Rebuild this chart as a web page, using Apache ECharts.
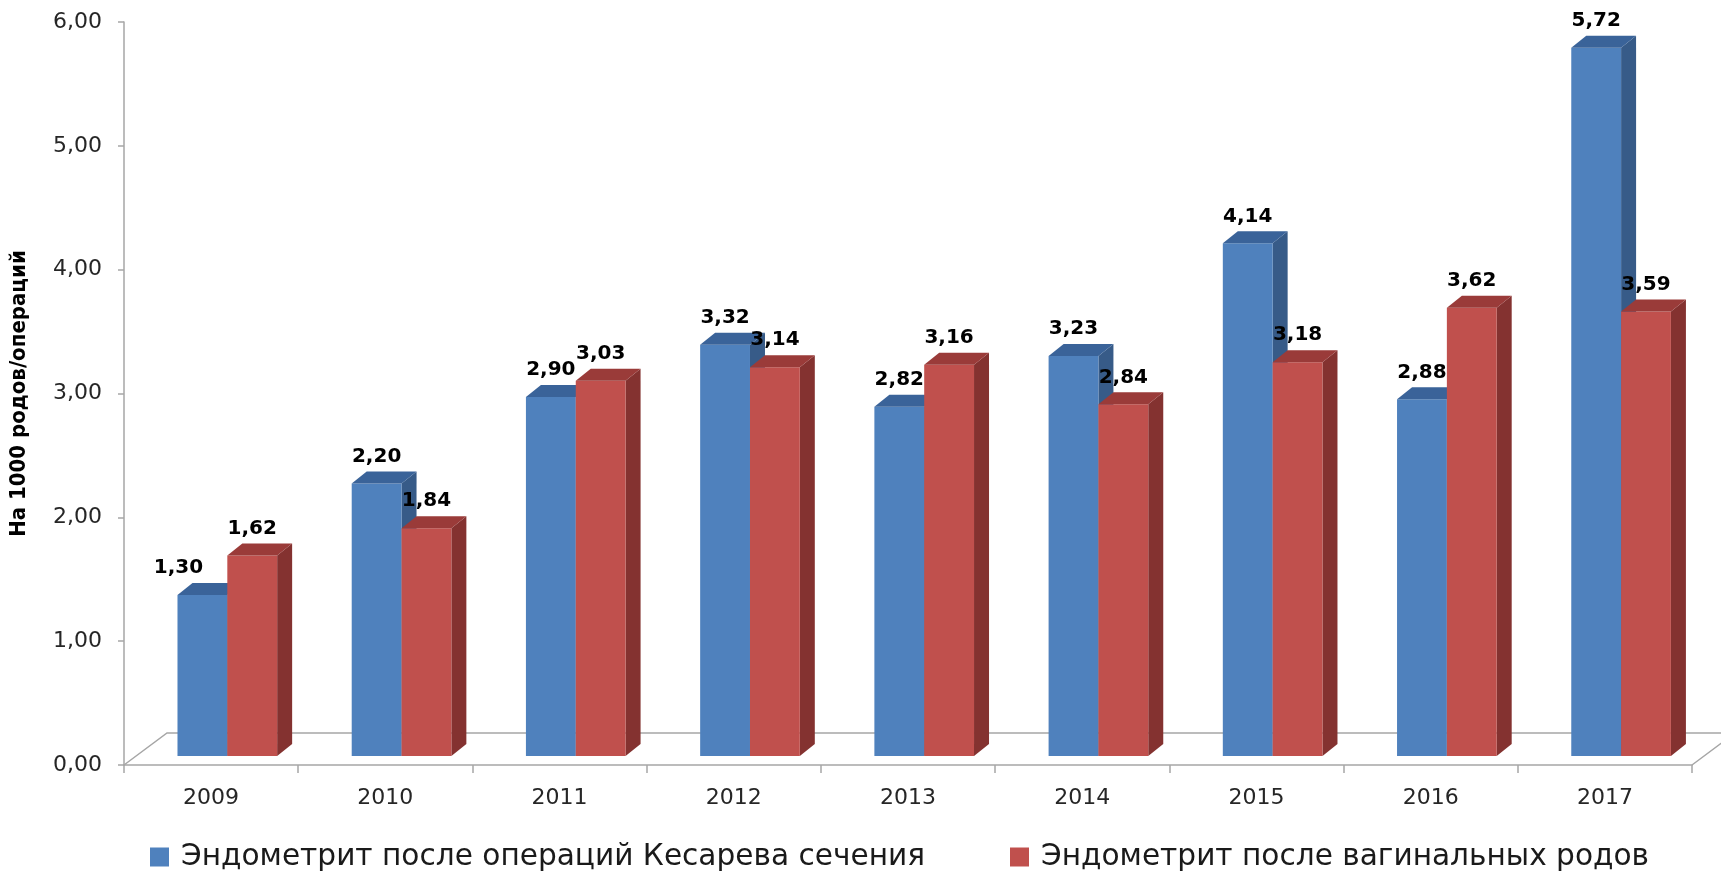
<!DOCTYPE html>
<html>
<head>
<meta charset="utf-8">
<title>Эндометрит</title>
<script src="https://cdn.jsdelivr.net/npm/echarts@6/dist/echarts.min.js"></script>
<style>
  html, body { margin: 0; padding: 0; background: #ffffff; }
  #chart { width: 1721px; height: 875px; }
</style>
</head>
<body>
<div id="chart"></div>
<script>
// Years shown on the category axis
const years = ['2009', '2010', '2011', '2012', '2013', '2014', '2015', '2016', '2017'];

// Cases per 1000 births / operations
const caesarean = [1.30, 2.20, 2.90, 3.32, 2.82, 3.23, 4.14, 2.88, 5.72];
const vaginal   = [1.62, 1.84, 3.03, 3.14, 3.16, 2.84, 3.18, 3.62, 3.59];

const seriesNames = [
  'Эндометрит после операций Кесарева сечения',
  'Эндометрит после вагинальных родов'
];

// Value axis range
const yMin = 0, yMax = 6, yStep = 1;

// Face colours for the pseudo-3D columns: front, top, side
const palette = [
  { front: '#4F81BD', top: '#3A6399', side: '#375B88' },
  { front: '#C0504D', top: '#9A3B39', side: '#843230' }
];

const fmt = v => v.toFixed(2).replace('.', ',');

// Column geometry relative to one category band
const geom = {
  pairStart: -0.193, // left edge of the first column, fraction of band from centre
  barFrac: 0.286,    // column width, fraction of band
  depthX: 15, depthY: 12, // receding depth of each column
  lift: 9            // columns stand slightly back on the floor
};
// Label nudges (series-category) to keep the first label clear of its neighbour
const labelNudge = { '0-0': -24 };

function columnRenderer(sIdx) {
  const col = palette[sIdx];
  return function (params, api) {
    const i = api.value(0);
    const v = api.value(1);
    const base = api.coord([i, 0]);
    const topPt = api.coord([i, v]);
    const band = api.size([1, 0])[0];
    const w = band * geom.barFrac;
    const x0 = base[0] + band * geom.pairStart + sIdx * w;
    const yb = base[1] - geom.lift;
    const yt = topPt[1] - geom.lift;
    const dx = geom.depthX, dy = geom.depthY;
    const nudge = labelNudge[sIdx + '-' + i] || 0;
    return {
      type: 'group',
      children: [
        {
          type: 'polygon',
          shape: { points: [[x0 + w, yt], [x0 + w + dx, yt - dy], [x0 + w + dx, yb - dy], [x0 + w, yb]] },
          style: { fill: col.side }
        },
        {
          type: 'rect',
          shape: { x: x0, y: yt, width: w, height: yb - yt },
          style: { fill: col.front }
        },
        {
          type: 'polygon',
          shape: { points: [[x0, yt], [x0 + dx, yt - dy], [x0 + w + dx, yt - dy], [x0 + w, yt]] },
          style: { fill: col.top }
        },
        {
          type: 'text',
          z2: 10,
          style: {
            text: fmt(v),
            x: x0 + w / 2 + nudge,
            y: yt - 27,
            align: 'center',
            verticalAlign: 'middle',
            fontFamily: '"DejaVu Sans"',
            fontWeight: 'bold',
            fontSize: 20,
            fill: '#000000'
          }
        }
      ]
    };
  };
}

// Floor outline behind the columns
function floorRenderer(params, api) {
  const cs = params.coordSys;
  const fx = 43, fy = 32;
  const bottom = cs.y + cs.height;
  return {
    type: 'polyline',
    shape: {
      points: [
        [cs.x, bottom],
        [cs.x + fx, bottom - fy],
        [cs.x + cs.width + fx, bottom - fy],
        [cs.x + cs.width, bottom]
      ]
    },
    style: { stroke: '#A6A6A6', lineWidth: 1.5, fill: null }
  };
}

const chart = echarts.init(document.getElementById('chart'), null, { renderer: 'canvas' });

const legendText = { fontFamily: '"DejaVu Sans"', fontSize: 29.6, color: '#1a1a1a', padding: [0, 0, 0, 7] };

chart.setOption({
  animation: false,
  backgroundColor: '#ffffff',
  grid: { left: 118, right: 29, top: 22, bottom: 110, containLabel: false },
  legend: [
    {
      data: [seriesNames[0]], left: 145, top: 837,
      icon: 'rect', itemWidth: 19, itemHeight: 19, textStyle: legendText
    },
    {
      data: [seriesNames[1]], left: 1005, top: 837,
      icon: 'rect', itemWidth: 19, itemHeight: 19, textStyle: legendText
    }
  ],
  xAxis: {
    type: 'category',
    data: years,
    boundaryGap: true,
    axisLine: { lineStyle: { color: '#A6A6A6', width: 1.5 } },
    axisTick: { show: true, length: 8, lineStyle: { color: '#A6A6A6', width: 1.5 } },
    axisLabel: { margin: 22, fontFamily: '"DejaVu Sans"', fontSize: 22, color: '#262626' },
    splitLine: { show: false }
  },
  yAxis: {
    type: 'value',
    min: yMin, max: yMax, interval: yStep,
    name: 'На 1000 родов/операций',
    nameLocation: 'middle',
    nameGap: 94,
    nameRotate: 90,
    nameTextStyle: { fontFamily: '"DejaVu Sans Condensed", "DejaVu Sans"', fontWeight: 'bold', fontSize: 22, color: '#000000' },
    axisLine: { show: true, lineStyle: { color: '#A6A6A6', width: 1.5 } },
    axisTick: { show: true, length: 6, lineStyle: { color: '#A6A6A6', width: 1.5 } },
    axisLabel: { margin: 22, formatter: v => fmt(v), fontFamily: '"DejaVu Sans"', fontSize: 22, color: '#262626' },
    splitLine: { show: false }
  },
  series: [
    {
      type: 'custom', name: 'floor', silent: true, z: 1, clip: false,
      renderItem: floorRenderer,
      data: [[0, 0]]
    },
    {
      type: 'custom', name: seriesNames[0], z: 2, clip: false,
      itemStyle: { color: palette[0].front },
      renderItem: columnRenderer(0),
      encode: { x: 0, y: 1 },
      data: caesarean.map((v, i) => [i, v])
    },
    {
      type: 'custom', name: seriesNames[1], z: 3, clip: false,
      itemStyle: { color: palette[1].front },
      renderItem: columnRenderer(1),
      encode: { x: 0, y: 1 },
      data: vaginal.map((v, i) => [i, v])
    }
  ]
});
</script>
</body>
</html>
